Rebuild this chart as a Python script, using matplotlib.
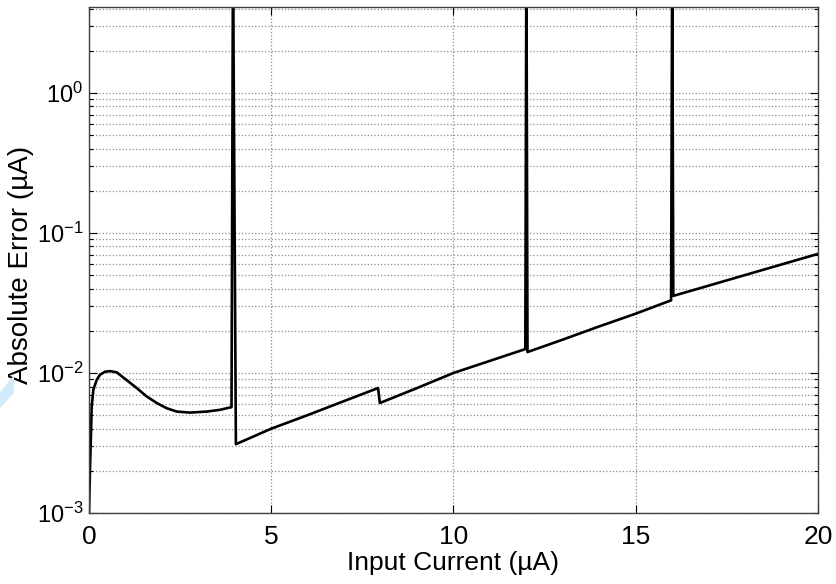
import matplotlib.pyplot as plt
from matplotlib.patches import Polygon

# absolute error curve (x in uA, y in uA)
current = [0.0, 0.03, 0.055, 0.073, 0.12, 0.21, 0.30, 0.44, 0.58, 0.76,
           1.03, 1.31, 1.58, 1.86, 2.13, 2.41, 2.77, 3.23, 3.59, 3.91,
           3.95, 4.03,
           5.0, 6.0, 7.0, 7.93, 7.98,
           9.0, 10.0, 11.0, 11.97, 12.0, 12.03,
           13.0, 14.0, 15.0, 15.97, 16.0, 16.03,
           17.0, 18.0, 19.0, 20.0]
abs_error = [0.001, 0.0022, 0.0037, 0.0057, 0.0076, 0.0089, 0.0097, 0.0102, 0.0103, 0.0101,
             0.0089, 0.0078, 0.0068, 0.0061, 0.0056, 0.0053, 0.00521, 0.0053, 0.00545, 0.0057,
             10.0, 0.0031,
             0.0040, 0.0050, 0.0063, 0.0078, 0.0061,
             0.0078, 0.0100, 0.0122, 0.0148, 10.0, 0.0141,
             0.0173, 0.0215, 0.0265, 0.0330, 10.0, 0.0355,
             0.0420, 0.0500, 0.0595, 0.0708]

x_ticks = [0, 5, 10, 15, 20]
y_ticks = [1e-3, 1e-2, 1e-1, 1e0]

plt.rcParams['font.family'] = ['Liberation Sans', 'DejaVu Sans']
plt.rcParams['mathtext.fontset'] = 'custom'
plt.rcParams['mathtext.rm'] = 'Liberation Sans'

W, H = 837, 584
fig = plt.figure(figsize=(W / 100, H / 100), dpi=100)
ax = fig.add_axes([89 / W, 1 - 513 / H, (818 - 89) / W, (513 - 7) / H])

ax.plot(current, abs_error, color='black', linewidth=1.9)

ax.set_yscale('log')
ax.set_xlim(0, 20)
ax.set_ylim(1e-3, 4.1)
ax.set_xticks(x_ticks)
ax.set_yticks(y_ticks)

ax.grid(True, which='major', axis='both', color='0.55', linestyle=':', linewidth=0.9)
ax.grid(True, which='minor', axis='y', color='0.55', linestyle=':', linewidth=0.9)

ax.tick_params(which='both', direction='in', top=True, right=True)
ax.tick_params(axis='x', pad=9, labelsize=19)
ax.tick_params(axis='y', pad=4, labelsize=17)
ax.tick_params(which='major', length=6, width=0.8)
ax.tick_params(which='minor', length=3, width=0.8)
for s in ax.spines.values():
    s.set_linewidth(1.0)
    s.set_color('0.25')

ax.set_xlabel('Input Current (\u00b5A)', fontsize=19, labelpad=1)
ax.set_ylabel('Absolute Error (\u00b5A)', fontsize=20)
ax.yaxis.set_label_coords(-0.076, 0.49)

# faint blue mark at the left edge of the scanned figure
blob = [(0, 392), (14, 375), (14, 393), (0, 408)]
fig.patches.append(Polygon([(px / W, 1 - py / H) for px, py in blob], closed=True,
                           transform=fig.transFigure, facecolor='#d3eafa',
                           edgecolor='none', zorder=0))

fig.savefig('out.png', dpi=100)
